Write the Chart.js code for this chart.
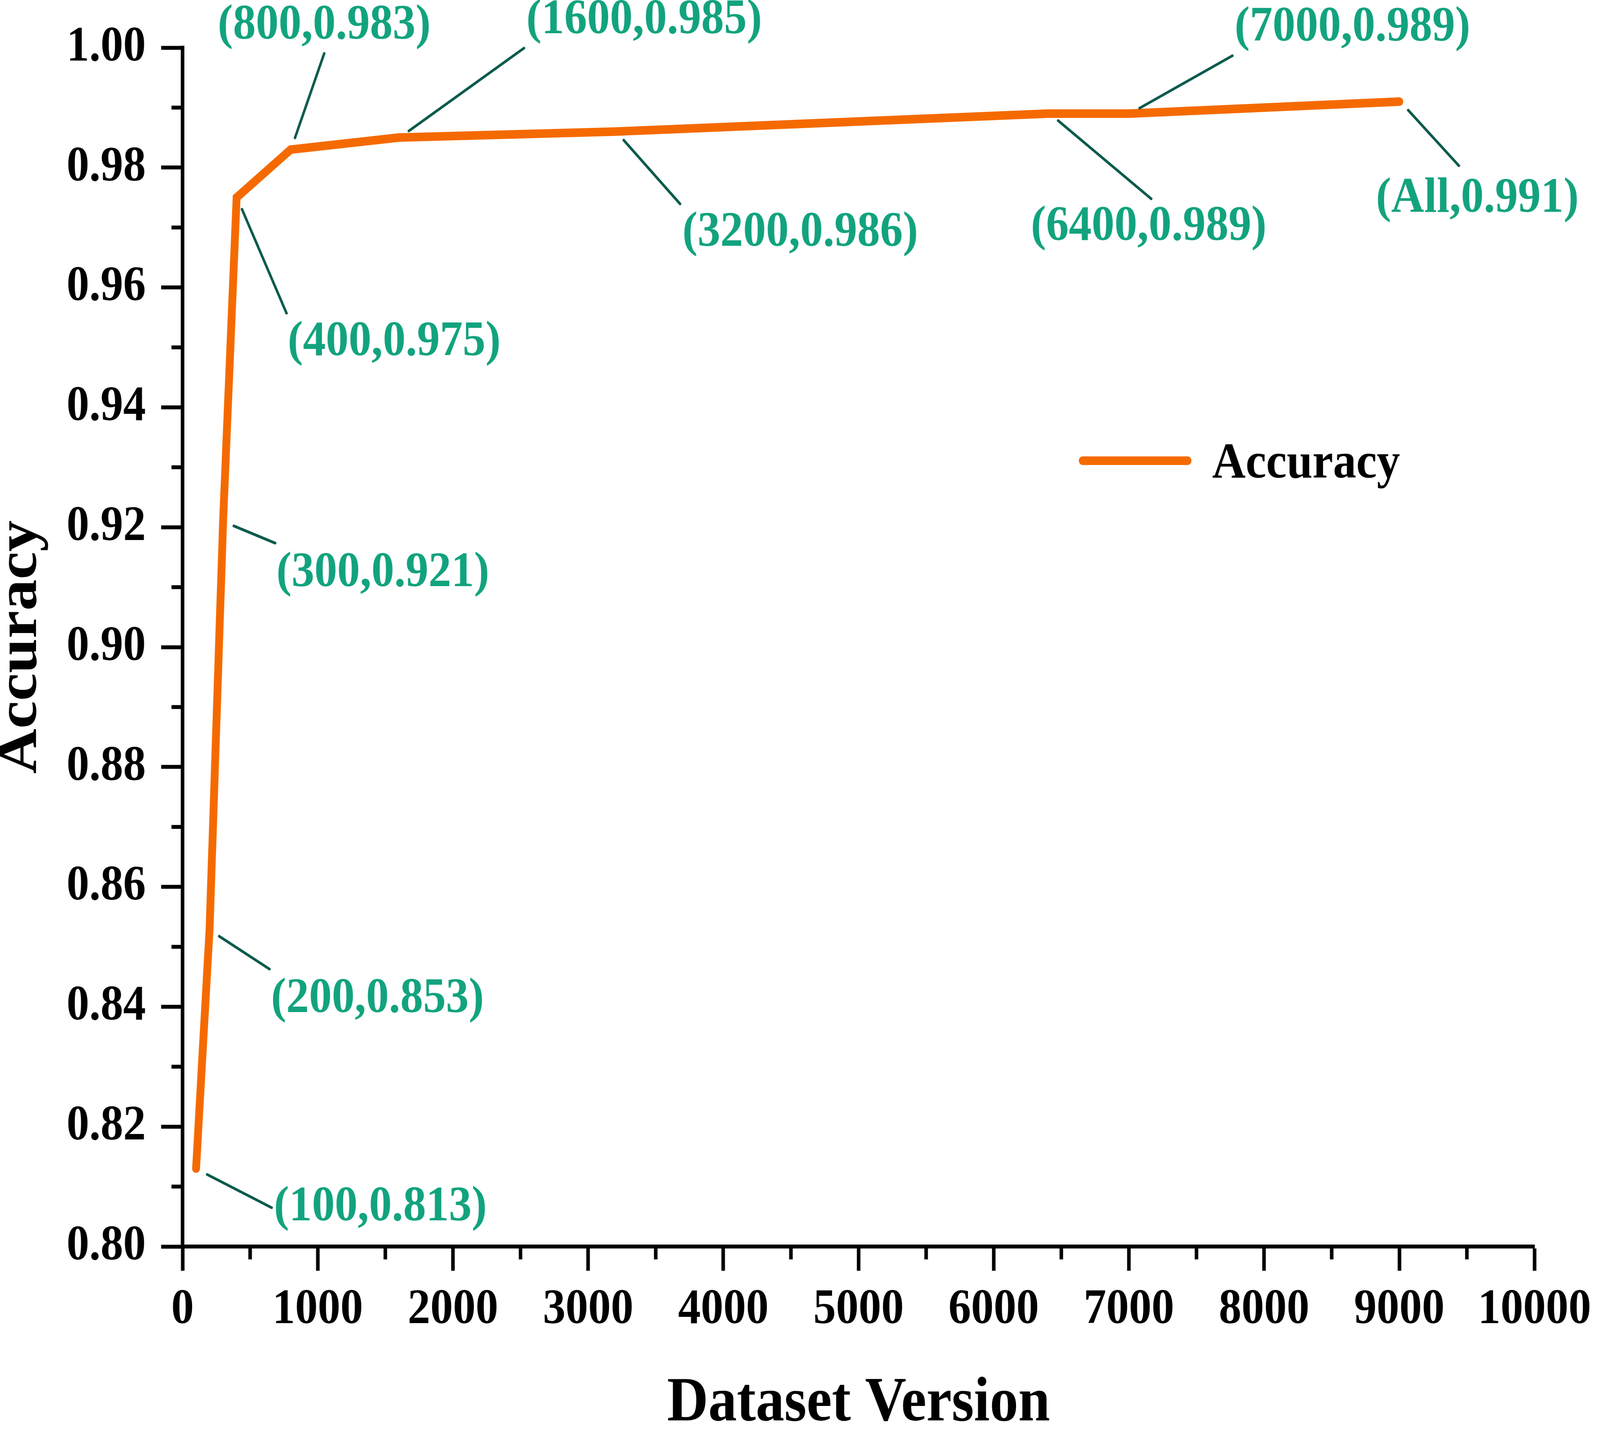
<!DOCTYPE html>
<html>
<head>
<meta charset="utf-8">
<style>
  html, body { margin: 0; padding: 0; background: #ffffff; overflow: hidden; }
  canvas#c { display: block; width: 100vw; height: 100vh; }
</style>
<script src="https://cdn.jsdelivr.net/npm/chart.js@4.4.1/dist/chart.umd.min.js"></script>
</head>
<body>
<canvas id="c" width="4488" height="3657" style="width:100vw;height:100vh;"></canvas>
<script>
// ---- data ----
const xValues   = [100, 200, 300, 400, 800, 1600, 3200, 6400, 7000, 9000];
const accuracy  = [0.813, 0.853, 0.921, 0.975, 0.983, 0.985, 0.986, 0.989, 0.989, 0.991];
const pointNames = ['100', '200', '300', '400', '800', '1600', '3200', '6400', '7000', 'All'];
const seriesLabel = 'Accuracy';
const xTitle = 'Dataset Version';
const yTitle = 'Accuracy';

// ---- styling (label placement offsets relative to each point, in px) ----
const labelOffsets = [
  {l: [31, 15, 212, 100],   t: [517, 99]},
  {l: [27, 19, 168, 103],   t: [471, 180]},
  {l: [30, 12, 146, 56],    t: [448, 133]},
  {l: [15, 30, 140, 296],   t: [442, 370]},
  {l: [12, -30, 94, -246],  t: [94, -317]},
  {l: [28, -17, 351, -229], t: [688, -300]},
  {l: [24, 22, 182, 185],   t: [519, 259]},
  {l: [29, 18, 290, 218],   t: [283, 290]},
  {l: [30, -14, 290, -148], t: [627, -220]},
  {l: [25, 22, 167, 164],   t: [219, 249]}
];
const FONT = '"Liberation Serif", "Times New Roman", serif';
const ORANGE = '#F56A00';
const TEXT_GREEN = '#12A37E';
const LEADER = '#0B5A4C';

const points = xValues.map((x, i) => ({x: x, y: accuracy[i]}));

const minorTicks = {
  id: 'minorTicks',
  afterDraw(chart) {
    const {ctx, chartArea, scales} = chart;
    ctx.save();
    ctx.strokeStyle = '#000';
    ctx.lineWidth = 10;
    ctx.lineCap = 'butt';
    const xs = scales.x, ys = scales.y;
    for (let v = 500; v < 10000; v += 1000) {
      const px = xs.getPixelForValue(v);
      ctx.beginPath();
      ctx.moveTo(px, chartArea.bottom);
      ctx.lineTo(px, chartArea.bottom + 33);
      ctx.stroke();
    }
    for (let k = 0; k < 10; k++) {
      const v = 0.81 + k * 0.02;
      const py = ys.getPixelForValue(v);
      ctx.beginPath();
      ctx.moveTo(chartArea.left, py);
      ctx.lineTo(chartArea.left - 31, py);
      ctx.stroke();
    }
    ctx.restore();
  }
};

const pointLabels = {
  id: 'pointLabels',
  afterDatasetsDraw(chart) {
    const {ctx} = chart;
    const meta = chart.getDatasetMeta(0);
    ctx.save();
    meta.data.forEach((el, i) => {
      const o = labelOffsets[i];
      const px = el.x, py = el.y;
      ctx.strokeStyle = LEADER;
      ctx.lineWidth = 7;
      ctx.lineCap = 'round';
      ctx.beginPath();
      ctx.moveTo(px + o.l[0], py + o.l[1]);
      ctx.lineTo(px + o.l[2], py + o.l[3]);
      ctx.stroke();
      ctx.fillStyle = TEXT_GREEN;
      ctx.font = 'bold 128px ' + FONT;
      ctx.textAlign = 'center';
      ctx.textBaseline = 'middle';
      ctx.fillText('(' + pointNames[i] + ',' + accuracy[i].toFixed(3) + ')', px + o.t[0], py + o.t[1]);
    });
    ctx.restore();
  }
};

const customLegend = {
  id: 'customLegend',
  afterDraw(chart) {
    const {ctx, chartArea} = chart;
    const ds = chart.data.datasets[0];
    const x0 = chartArea.left + 2525, y0 = chartArea.top + 1057;
    ctx.save();
    ctx.strokeStyle = ds.borderColor;
    ctx.lineWidth = 22;
    ctx.lineCap = 'round';
    ctx.beginPath();
    ctx.moveTo(x0, y0);
    ctx.lineTo(x0 + 294, y0);
    ctx.stroke();
    ctx.fillStyle = '#000';
    ctx.font = 'bold 130px ' + FONT;
    ctx.textAlign = 'left';
    ctx.textBaseline = 'alphabetic';
    ctx.fillText(ds.label, x0 + 363, y0 + 43);
    ctx.restore();
  }
};

new Chart(document.getElementById('c'), {
  type: 'line',
  data: {
    datasets: [{
      label: seriesLabel,
      data: points,
      borderColor: ORANGE,
      backgroundColor: ORANGE,
      borderWidth: 22,
      borderCapStyle: 'round',
      borderJoinStyle: 'miter',
      pointRadius: 0,
      tension: 0,
      fill: false
    }]
  },
  options: {
    responsive: false,
    animation: false,
    devicePixelRatio: 1,
    layout: { padding: { top: 122, right: 166, left: 0, bottom: 0 } },
    plugins: { legend: { display: false }, tooltip: { enabled: false } },
    scales: {
      x: {
        type: 'linear',
        min: 0, max: 10000,
        afterFit(scale) { scale.height = 467; },
        ticks: {
          stepSize: 1000,
          color: '#000',
          padding: 25,
          maxRotation: 0,
          font: { family: FONT, size: 127, weight: 'bold' },
          callback: (v) => String(v)
        },
        grid: { drawOnChartArea: false, drawTicks: true, tickLength: 62, tickWidth: 10, tickColor: '#000' },
        border: { display: true, color: '#000', width: 10 },
        title: {
          display: true, text: xTitle, color: '#000', padding: 0,
          font: { family: FONT, size: 160, weight: 'bold', lineHeight: 0.79 }
        }
      },
      y: {
        type: 'linear',
        min: 0.8, max: 1.0,
        afterFit(scale) { scale.width = 512; },
        ticks: {
          stepSize: 0.02,
          color: '#000',
          padding: 43,
          font: { family: FONT, size: 127, weight: 'bold' },
          callback: (v) => Number(v).toFixed(2)
        },
        grid: { drawOnChartArea: false, drawTicks: true, tickLength: 60, tickWidth: 10, tickColor: '#000' },
        border: { display: true, color: '#000', width: 10 },
        title: {
          display: true, text: yTitle, color: '#000', padding: 0,
          font: { family: FONT, size: 160, weight: 'bold', lineHeight: 0.74 }
        }
      }
    }
  },
  plugins: [minorTicks, pointLabels, customLegend]
});
</script>
</body>
</html>
